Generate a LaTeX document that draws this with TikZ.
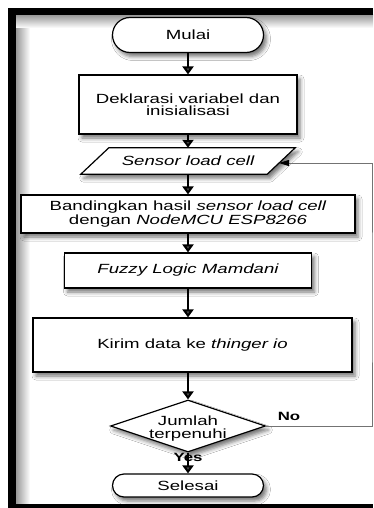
\documentclass[tikz,border=0pt]{standalone}
\usepackage{fontspec}
\setmainfont{Liberation Sans}[FakeStretch=1.4]
\usetikzlibrary{arrows.meta,shapes.misc,shapes.geometric,shadows.blur,calc}
\begin{document}
\begin{tikzpicture}[x=1pt,y=-1pt,
  shad/.style={blur shadow={shadow xshift=3pt,shadow yshift=-4pt,shadow blur radius=4pt,shadow opacity=55}},
  txt/.style={align=center,font=\fontsize{13.3}{12.5}\selectfont},
  box/.style={txt,draw,line width=1.2pt,fill=white,shad,inner sep=2pt},
  term/.style={box,rounded rectangle,minimum width=155pt},
  dec/.style={draw,line width=1.2pt,fill=white,shad,diamond,inner sep=0pt,minimum width=155pt,minimum height=52pt},
  arr/.style={line width=2pt,-{Triangle[length=8pt,width=11pt]}},
  back/.style={draw=black!55,line width=1pt,-{Triangle[length=10pt,width=6pt,color=black]}},
  lab/.style={font=\fontsize{12}{12}\selectfont\bfseries,inner sep=0pt}]
\useasboundingbox (0,0) rectangle (373,508);
\fill[white] (0,0) rectangle (373,508);
% frame inner shadow
\shade[left color=black!40,right color=white] (16,15) rectangle (30,504);
\shade[top color=black!40,bottom color=white] (16,15) rectangle (373,28);
% frame border
\fill[black] (8,8) rectangle (373,15);
\fill[black] (8,8) rectangle (16,508);
\fill[black] (8,504) rectangle (373,508);
% nodes
\node[term,minimum height=35pt] (mulai) at (188,35) {Mulai};
\node[box,minimum width=218pt,minimum height=59pt] (dekl) at (188,104.5) {Deklarasi variabel dan\\inisialisasi};
\node[txt,minimum width=186pt,minimum height=26pt,inner sep=0pt] (sensor) at (188,161) {};
\draw[line width=1.2pt,fill=white,shad]
  ($(sensor.south west)+(-14,0)$) -- ($(sensor.north west)+(14,0)$) --
  ($(sensor.north east)+(14,0)$) -- ($(sensor.south east)+(-14,0)$) -- cycle;
\node[txt] at (sensor) {\itshape Sensor load cell};
\coordinate (sin) at (279,163);
\node[box,minimum width=334pt,minimum height=38pt,font=\fontsize{13.3}{10.8}\selectfont] (band) at (188,214)
  {Bandingkan hasil \textit{sensor load cell}\\dengan \textit{NodeMCU ESP8266}};
\node[box,minimum width=247pt,minimum height=35pt] (fuzzy) at (188,270.5) {\itshape Fuzzy Logic Mamdani};
\node[box,minimum width=319pt,minimum height=54pt] (kirim) at (192.5,345) {Kirim data ke \textit{thinger io}};
\node[dec] (jum) at (188,426) {};
\node[txt] at (188,428.5) {Jumlah\\terpenuhi};
\node[term,minimum height=23pt] (selesai) at (188,485.5) {Selesai};
\node[lab] (yes) at (188,457) {Yes};
\node[lab] (no) at (289,416) {No};
\coordinate (rc) at (372,300);
% connectors
\draw[arr] (mulai.south) -- (dekl.north);
\draw[arr] (dekl.south) -- (sensor.north);
\draw[arr] (sensor.south) -- (band.north);
\draw[arr] (band.south) -- (fuzzy.north);
\draw[arr] (fuzzy.south) -- (kirim.north -| fuzzy.south);
\draw[arr] (kirim.south -| jum.north) -- (jum.north);
\draw[arr] (jum.south) -- (selesai.north);
\draw[back] (jum.east) -| (rc) |- (sin);
\end{tikzpicture}
\end{document}
